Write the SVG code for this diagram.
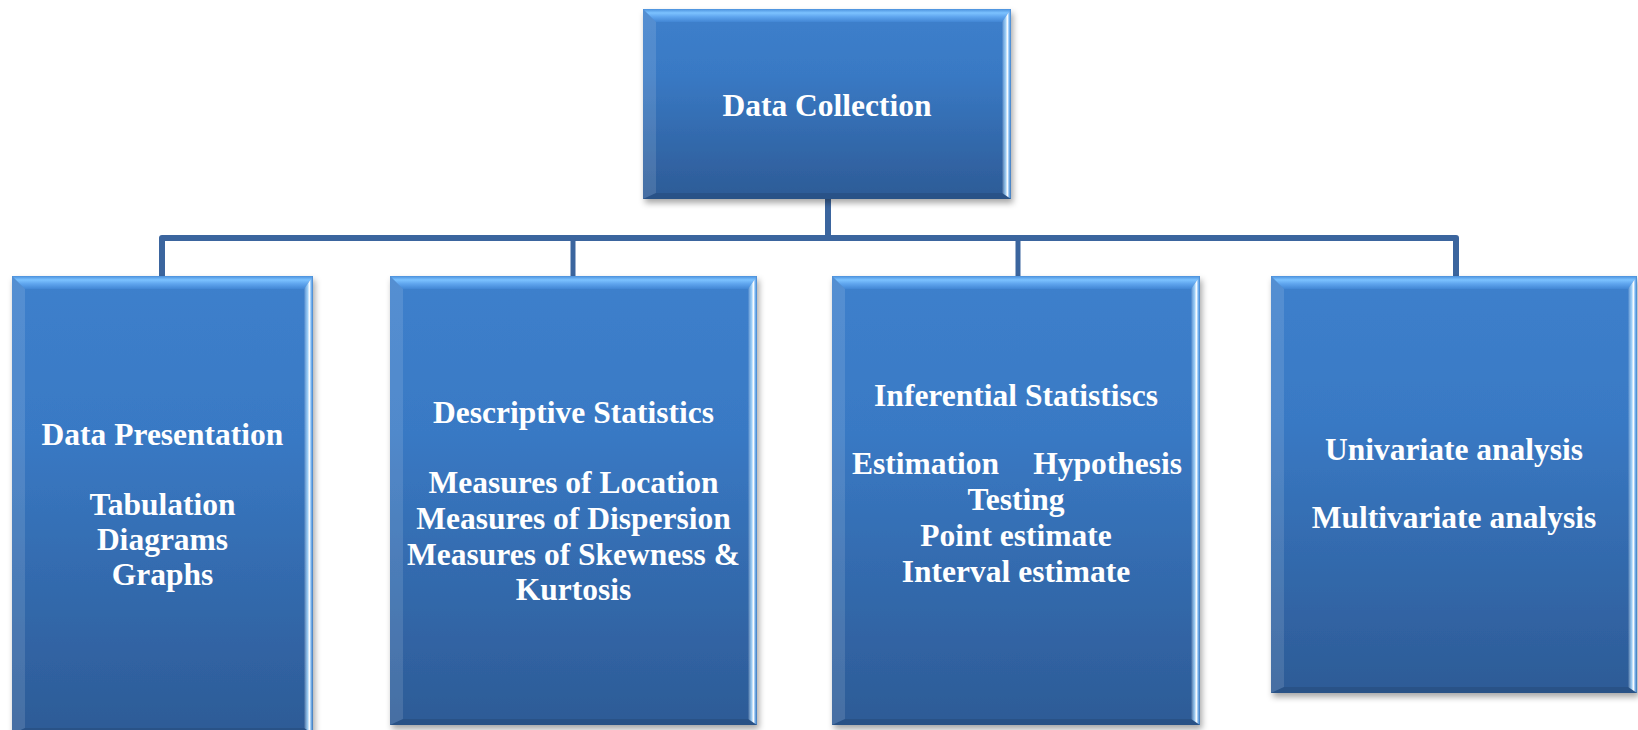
<svg xmlns="http://www.w3.org/2000/svg" width="1638" height="730" viewBox="0 0 1638 730">
<style>
.face{fill:url(#gFace);filter:url(#shadow)}
.bt{fill:url(#gTop)}
.bl{fill:#ffffff;fill-opacity:0.12}
.br{fill:url(#gRight)}
.bb{fill:#000000;fill-opacity:0.10}
.lbl{font-family:"Liberation Serif","Times New Roman",serif;font-weight:bold;font-size:31.5px;fill:#ffffff;text-anchor:middle}
.conn{fill:none;stroke:#3b659e;stroke-linejoin:round}
</style>
<defs>
<linearGradient id="gFace" x1="0" y1="0" x2="0" y2="1">
<stop offset="0" stop-color="#3d80cc"/>
<stop offset="0.35" stop-color="#3979c4"/>
<stop offset="1" stop-color="#2d5b96"/>
</linearGradient>
<linearGradient id="gTop" x1="0" y1="0" x2="0" y2="1">
<stop offset="0" stop-color="#4a90dc"/>
<stop offset="0.3" stop-color="#7cc2ff"/>
<stop offset="0.6" stop-color="#5fa5ee"/>
<stop offset="1" stop-color="#4286d4"/>
</linearGradient>
<linearGradient id="gRight" x1="0" y1="0" x2="1" y2="0">
<stop offset="0" stop-color="#ffffff" stop-opacity="0"/>
<stop offset="0.35" stop-color="#9ed6ff" stop-opacity="0.8"/>
<stop offset="0.6" stop-color="#ffffff" stop-opacity="1"/>
<stop offset="0.8" stop-color="#8cc8ff" stop-opacity="0.8"/>
<stop offset="1" stop-color="#4a8ad0" stop-opacity="0.6"/>
</linearGradient>
<filter id="shadow" x="-5%" y="-5%" width="112%" height="115%">
<feDropShadow dx="2" dy="4" stdDeviation="3" flood-color="#000000" flood-opacity="0.35"/>
</filter>
</defs>

<g id="connectors">
<path class="conn" stroke-width="6" d="M828 199 V238"/>
<path class="conn" stroke-width="6" d="M162 276 V238 H1456 V276"/>
<path class="conn" stroke-width="5" d="M573 238 V276"/>
<path class="conn" stroke-width="5" d="M1018 238 V276"/>
</g>

<g id="data-collection">
<rect class="face" x="643" y="9" width="368" height="190"/>
<polygon class="bt" points="643,9 1011,9 1002,22 656,22"/>
<polygon class="bl" points="643,9 656,22 656,193 643,199"/>
<polygon class="br" points="1011,9 1011,199 1002,193 1002,22"/>
<polygon class="bb" points="643,199 1011,199 1002,193 656,193"/>
<text class="lbl" x="827" y="116">Data Collection</text>
</g>

<g id="data-presentation">
<rect class="face" x="12" y="276" width="301" height="458"/>
<polygon class="bt" points="12,276 313,276 304,289 25,289"/>
<polygon class="bl" points="12,276 25,289 25,728 12,734"/>
<polygon class="br" points="313,276 313,734 304,728 304,289"/>
<polygon class="bb" points="12,734 313,734 304,728 25,728"/>
<text class="lbl" x="162.5" y="445">Data Presentation</text>
<text class="lbl" x="162.5" y="515">Tabulation</text>
<text class="lbl" x="162.5" y="550">Diagrams</text>
<text class="lbl" x="162.5" y="585">Graphs</text>
</g>

<g id="descriptive-statistics">
<rect class="face" x="390" y="276" width="367" height="449"/>
<polygon class="bt" points="390,276 757,276 748,289 403,289"/>
<polygon class="bl" points="390,276 403,289 403,719 390,725"/>
<polygon class="br" points="757,276 757,725 748,719 748,289"/>
<polygon class="bb" points="390,725 757,725 748,719 403,719"/>
<text class="lbl" x="573.5" y="423">Descriptive Statistics</text>
<text class="lbl" x="573.5" y="493">Measures of Location</text>
<text class="lbl" x="573.5" y="529">Measures of Dispersion</text>
<text class="lbl" x="573.5" y="565">Measures of Skewness &amp;</text>
<text class="lbl" x="573.5" y="600">Kurtosis</text>
</g>

<g id="inferential-statistics">
<rect class="face" x="832" y="276" width="368" height="449"/>
<polygon class="bt" points="832,276 1200,276 1191,289 845,289"/>
<polygon class="bl" points="832,276 845,289 845,719 832,725"/>
<polygon class="br" points="1200,276 1200,725 1191,719 1191,289"/>
<polygon class="bb" points="832,725 1200,725 1191,719 845,719"/>
<text class="lbl" x="1016" y="406">Inferential Statistiscs</text>
<text class="lbl" x="852" y="474" style="text-anchor:start">Estimation</text>
<text class="lbl" x="1182" y="474" style="text-anchor:end">Hypothesis</text>
<text class="lbl" x="1016" y="510">Testing</text>
<text class="lbl" x="1016" y="546">Point estimate</text>
<text class="lbl" x="1016" y="582">Interval estimate</text>
</g>

<g id="analysis">
<rect class="face" x="1271" y="276" width="366" height="417"/>
<polygon class="bt" points="1271,276 1637,276 1628,289 1284,289"/>
<polygon class="bl" points="1271,276 1284,289 1284,687 1271,693"/>
<polygon class="br" points="1637,276 1637,693 1628,687 1628,289"/>
<polygon class="bb" points="1271,693 1637,693 1628,687 1284,687"/>
<text class="lbl" x="1454" y="460">Univariate analysis</text>
<text class="lbl" x="1454" y="528">Multivariate analysis</text>
</g>
</svg>
